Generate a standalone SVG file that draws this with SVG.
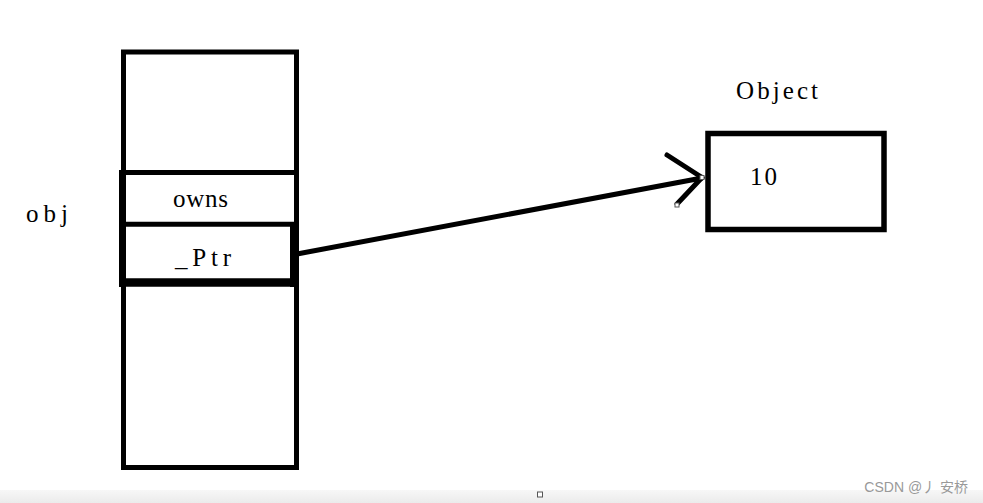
<svg xmlns="http://www.w3.org/2000/svg" width="983" height="503" viewBox="0 0 983 503">
<style>
.t{font-family:"Liberation Serif","DejaVu Serif",serif;font-size:25px;fill:#000}
.b{fill:none;stroke:#000}
.h{fill:#fff;stroke:#555;stroke-width:1}
</style>
<defs>
<linearGradient id="g" x1="0" y1="0" x2="0" y2="1"><stop offset="0" stop-color="#f7f7f7"/><stop offset="1" stop-color="#ebebeb"/></linearGradient>
</defs>
<rect width="983" height="503" fill="#fff"/>
<rect x="0" y="490" width="983" height="13" fill="url(#g)"/>
<rect x="537.5" y="492" width="5" height="5" class="h"/>
<g id="stack">
<rect x="123.5" y="52" width="173" height="415.5" class="b" stroke-width="5"/>
<line x1="121" y1="172.5" x2="299" y2="172.5" class="b" stroke-width="5"/>
<line x1="122.5" y1="170" x2="122.5" y2="287" class="b" stroke-width="7"/>
</g>
<g id="owns"><text class="t" x="173" y="207" textLength="55" lengthAdjust="spacing">owns</text></g>
<g id="ptr">
<line x1="121" y1="224.2" x2="296" y2="224.2" class="b" stroke-width="5"/>
<line x1="294.5" y1="224" x2="294.5" y2="287" class="b" stroke-width="9"/>
<line x1="119" y1="282.5" x2="299" y2="282.5" class="b" stroke-width="8.5"/>
<text class="t" x="175" y="266" textLength="56" lengthAdjust="spacing">_Ptr</text>
</g>
<g id="obj-label"><text class="t" x="26" y="222" textLength="42" lengthAdjust="spacing">obj</text></g>
<g id="object">
<text class="t" x="736" y="99" textLength="82" lengthAdjust="spacing">Object</text>
<rect x="708" y="133.5" width="176" height="96" class="b" stroke-width="5.5"/>
<text class="t" x="750" y="185" textLength="27" lengthAdjust="spacing">10</text>
</g>
<g id="connectors" stroke="#000" stroke-width="5" stroke-linecap="round" fill="none">
<line x1="297" y1="254" x2="702" y2="178"/>
<line x1="667" y1="155" x2="702" y2="177.5"/>
<line x1="677" y1="204" x2="702" y2="177.5"/>
</g>
<rect x="700" y="175.5" width="4" height="4" class="h"/>
<rect x="675" y="203" width="4" height="4" class="h"/>
<text x="968" y="492" text-anchor="end" font-family="Liberation Sans,'Noto Sans CJK SC',sans-serif" font-size="14" fill="#999">CSDN @丿 安桥</text>
</svg>
